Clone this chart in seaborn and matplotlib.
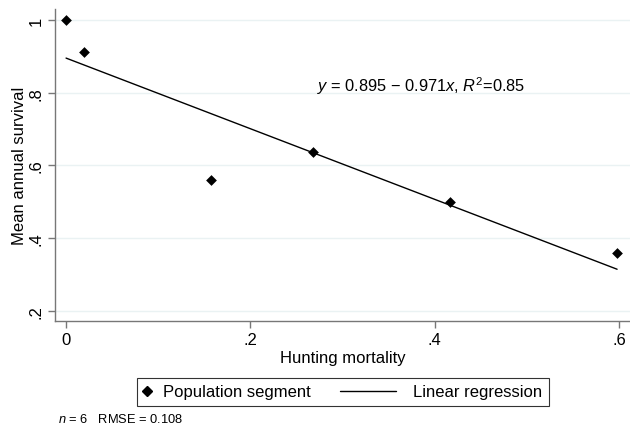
import matplotlib
matplotlib.use("Agg")
import matplotlib.pyplot as plt
from matplotlib.lines import Line2D
from matplotlib.legend_handler import HandlerBase
import numpy as np
import pandas as pd
import seaborn as sns

# data
mortality = [0.0, 0.019, 0.157, 0.268, 0.417, 0.598]
survival = [1.0, 0.911, 0.56, 0.636, 0.498, 0.36]
intercept = 0.895
slope = -0.971
r2 = 0.85
n_obs = 6
rmse = 0.108

xticks = [0, 0.2, 0.4, 0.6]
xtick_labels = ["0", ".2", ".4", ".6"]
yticks = [0.2, 0.4, 0.6, 0.8, 1.0]
ytick_labels = [".2", ".4", ".6", ".8", "1"]

df = pd.DataFrame({"mortality": mortality, "survival": survival})
line_x = np.array([min(mortality), max(mortality)])
fit = pd.DataFrame({"mortality": line_x, "survival": intercept + slope * line_x})


# legend handles placed like Stata's: marker hugging the left, long line for the fit
class MarkerLeft(HandlerBase):
    def create_artists(self, legend, orig_handle, xdescent, ydescent,
                       width, height, fontsize, trans):
        y = height / 2 - ydescent
        m = Line2D([-xdescent + 2.2], [y], marker="D", color="black",
                   ls="none", markersize=5.4, transform=trans)
        return [m]


class LongLine(HandlerBase):
    def create_artists(self, legend, orig_handle, xdescent, ydescent,
                       width, height, fontsize, trans):
        y = height / 2 - ydescent
        ln = Line2D([-xdescent - 38.9, -xdescent + 1.4], [y, y], color="black",
                    lw=1.0, transform=trans)
        return [ln]


sns.set_theme(style="white")
plt.rcParams["font.family"] = ["Liberation Sans", "DejaVu Sans"]
plt.rcParams["mathtext.fontset"] = "custom"
plt.rcParams["mathtext.rm"] = "Liberation Sans"
plt.rcParams["mathtext.it"] = "Liberation Sans:italic"
plt.rcParams["text.color"] = "black"
plt.rcParams["axes.labelcolor"] = "black"

fig = plt.figure(figsize=(6.3, 4.27), dpi=100)
ax = fig.add_axes([0.0873, 0.2459, 0.9127, 0.7307])

for yv in yticks:
    ax.axhline(yv, color="#eaf2f3", lw=1.0, zorder=0)

sns.lineplot(data=fit, x="mortality", y="survival", color="black", lw=1.0, ax=ax)
sns.scatterplot(data=df, x="mortality", y="survival", marker="D", s=30,
                color="black", edgecolor="black", linewidth=0, ax=ax, zorder=3)

ax.set_xlim(-0.012, 0.612)
ax.set_ylim(0.172, 1.03)
ax.set_xticks(xticks)
ax.set_xticklabels(xtick_labels)
ax.set_yticks(yticks)
ax.set_yticklabels(ytick_labels, rotation=90, va="center")
ax.tick_params(axis="both", direction="out", length=5, width=1, color="#777777",
               labelcolor="black", labelsize=12, bottom=True, left=True, pad=3)
for side in ["top", "right"]:
    ax.spines[side].set_visible(False)
for side in ["left", "bottom"]:
    ax.spines[side].set_color("#777777")
    ax.spines[side].set_linewidth(1.0)

ax.set_xlabel("Hunting mortality", fontsize=12, labelpad=2)
ax.set_ylabel("Mean annual survival", fontsize=12, labelpad=1)

ax.text(0.272, 0.821,
        r"$\it{y}$ = %.3f − %.3f$\it{x}$, $\it{R}^2$=%.2f" % (intercept, -slope, r2),
        fontsize=11.8, va="center", ha="left")

h_pts = Line2D([], [], marker="D", color="black", ls="none")
h_fit = Line2D([], [], color="black")
leg = fig.legend([h_pts, h_fit], ["Population segment", "Linear regression"], ncol=2,
                 loc="center", bbox_to_anchor=(343 / 630, 1 - 393 / 427),
                 handler_map={h_pts: MarkerLeft(), h_fit: LongLine()},
                 frameon=True, fancybox=False, edgecolor="black", fontsize=12,
                 handlelength=0.8, handletextpad=0.35, columnspacing=5.0,
                 borderpad=0.4)
leg.get_frame().set_linewidth(0.8)

fig.text(58 / 630, 1 - 420 / 427, r"$\it{n}$ = %d   RMSE = %.3f" % (n_obs, rmse),
         fontsize=9.3, va="center", ha="left")

fig.savefig("out.png", dpi=100)
